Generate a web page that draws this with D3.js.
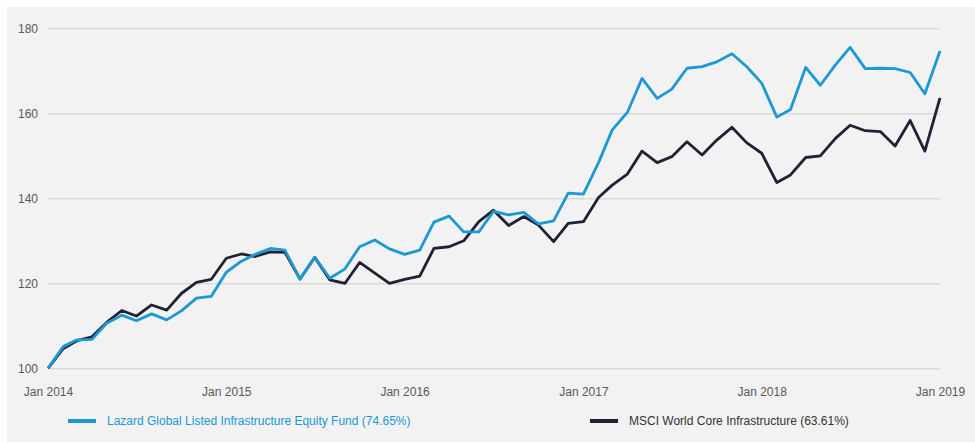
<!DOCTYPE html>
<html>
<head>
<meta charset="utf-8">
<script src="https://cdn.jsdelivr.net/npm/d3@7"></script>
<style>
  body { margin: 0; background: #fff; }
  svg { display: block; }
  .tick text { fill: #595959; }
</style>
</head>
<body>
<svg id="chart" width="975" height="443"></svg>
<script>
// monthly index values, Jan 2014 .. Jan 2019 (rebased to 100)
var lazard = [100, 105.1, 106.7, 106.8, 110.6, 112.5, 111.2, 112.8, 111.4, 113.5, 116.5, 116.9,
  122.6, 125.2, 126.8, 128.2, 127.8, 121, 126.1, 121.2, 123.4, 128.6, 130.2, 128.1,
  126.8, 127.8, 134.4, 135.8, 132.1, 132.1, 136.9, 136.1, 136.7, 134, 134.7, 141.2,
  141, 148.4, 156.1, 160.2, 168.2, 163.5, 165.7, 170.6, 171, 172.1, 174, 171,
  167.1, 159.1, 160.9, 170.8, 166.6, 171.4, 175.5, 170.5, 170.6, 170.5, 169.6, 164.6,
  174.65];
var msci = [100, 104.6, 106.5, 107.4, 110.8, 113.6, 112.3, 114.9, 113.7, 117.6, 120.2, 120.9,
  125.9, 126.9, 126.3, 127.4, 127.3, 121, 126.1, 120.8, 120, 124.9, 122.4, 120,
  120.9, 121.7, 128.2, 128.6, 130, 134.5, 137.2, 133.6, 135.7, 133.7, 129.8, 134.1,
  134.5, 140.2, 143.1, 145.7, 151.1, 148.4, 149.8, 153.3, 150.2, 153.7, 156.7, 153.1,
  150.6, 143.7, 145.5, 149.6, 150, 154.1, 157.2, 155.9, 155.7, 152.3, 158.3, 151.1,
  163.61];
var yTicks = [100, 120, 140, 160, 180];
var xTickYears = [2014, 2015, 2016, 2017, 2018, 2019];
var seriesNames = ["Lazard Global Listed Infrastructure Equity Fund (74.65%)", "MSCI World Core Infrastructure (63.61%)"];
var seriesColors = ["#1b98d5", "#1f2233"];

var months = d3.timeMonth.range(new Date(2014, 0, 1), new Date(2019, 0, 2));

var svg = d3.select("#chart");

// grey panel
svg.append("rect")
  .attr("x", 7).attr("y", 7)
  .attr("width", 968).attr("height", 435)
  .attr("fill", "#f2f2f2");

var x = d3.scaleTime()
  .domain([new Date(2014, 0, 1), new Date(2019, 0, 1)])
  .range([48, 940]);
var y = d3.scaleLinear().domain([100, 180]).range([368.3, 28.3]);

// gridlines + y labels
var yAxis = svg.append("g")
  .attr("transform", "translate(48,0)")
  .call(d3.axisLeft(y).tickValues(yTicks).tickSize(-892).tickPadding(10).tickFormat(d3.format("d")));
yAxis.select(".domain").remove();
yAxis.selectAll("line").attr("stroke", "#d9d9d9").attr("stroke-width", 1.5);
yAxis.selectAll("text")
  .attr("font-family", "Liberation Sans, Arial, sans-serif")
  .attr("font-size", 12);

// x labels
var xAxis = svg.append("g")
  .attr("transform", "translate(0,380)")
  .call(d3.axisBottom(x)
    .tickValues(xTickYears.map(function (yr) { return new Date(yr, 0, 1); }))
    .tickSize(0).tickPadding(7)
    .tickFormat(d3.timeFormat("Jan %Y")));
xAxis.select(".domain").remove();
xAxis.selectAll("text")
  .attr("font-family", "Liberation Sans, Arial, sans-serif")
  .attr("font-size", 12);

var line = d3.line()
  .x(function (d, i) { return x(months[i]); })
  .y(function (d) { return y(d); });

[lazard, msci].slice().reverse().forEach(function (s, j) {
  var k = 1 - j;
  svg.append("path")
    .datum(s)
    .attr("fill", "none")
    .attr("stroke", seriesColors[k])
    .attr("stroke-width", 2.8)
    .attr("stroke-linejoin", "round")
    .attr("d", line);
});

// legend
var legendX = [68, 590];
var legend = svg.append("g").selectAll("g")
  .data(seriesNames)
  .enter().append("g")
  .attr("transform", function (d, i) { return "translate(" + legendX[i] + ",421)"; });
legend.append("line")
  .attr("x1", 0).attr("x2", 28)
  .attr("stroke", function (d, i) { return seriesColors[i]; })
  .attr("stroke-width", 4);
legend.append("text")
  .attr("x", 39).attr("dy", "0.35em")
  .attr("font-family", "Liberation Sans, Arial, sans-serif")
  .attr("font-size", 12)
  .attr("fill", function (d, i) { return i == 0 ? seriesColors[0] : "#333"; })
  .text(function (d) { return d; });
</script>
</body>
</html>
